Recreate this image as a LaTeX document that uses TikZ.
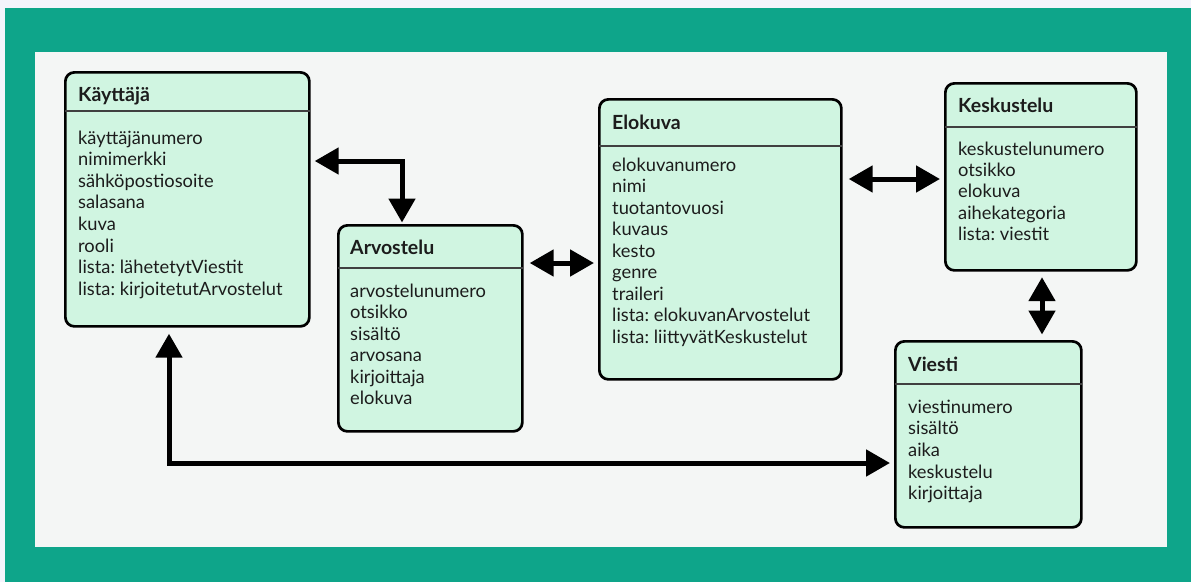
\documentclass[tikz,border=0pt]{standalone}
\usepackage{fontspec}
\setmainfont{Lato}[WordSpace=0.7]
\usetikzlibrary{arrows.meta,calc}

\definecolor{pageBg}{HTML}{F4F4FC}
\definecolor{frameTeal}{HTML}{0EA58A}
\definecolor{paper}{HTML}{F4F6F5}
\definecolor{entityFill}{HTML}{D0F5E1}
\definecolor{inkText}{HTML}{1C1C1C}

\tikzset{
  entity/.style={draw=black, line width=2.7pt, rounded corners=9pt,
    fill=entityFill, anchor=north west, inner sep=0pt},
  divider/.style={draw=black!75, line width=1.5pt},
  title/.style={font=\fontsize{19.5}{22}\selectfont\bfseries, text=inkText,
    anchor=base west, inner sep=0pt},
  attr/.style={font=\fontsize{18.3}{21.5}\selectfont, text=inkText,
    anchor=base west, inner sep=0pt},
  link/.style={line width=5pt, draw=black,
    {Triangle[length=24pt,width=26pt]}-{Triangle[length=24pt,width=26pt]}},
}

\begin{document}
\begin{tikzpicture}[x=1pt,y=-1pt]
  % page, frame and drawing area
  \fill[pageBg] (0,0) rectangle (1191,582);
  \fill[frameTeal] (5,8) rectangle (1191,582);
  \fill[paper] (35,52) rectangle (1167,547);
  \useasboundingbox (0,0) rectangle (1191,582);

  % entities
  \node[entity, minimum width=244pt, minimum height=254pt] (kay) at (64,71) {};
  \node[entity, minimum width=184pt, minimum height=206pt] (arv) at (337,224) {};
  \node[entity, minimum width=242pt, minimum height=280pt] (elo) at (598,98) {};
  \node[entity, minimum width=191pt, minimum height=187pt] (kes) at (944,82) {};
  \node[entity, minimum width=186pt, minimum height=186pt] (vie) at (894,340) {};

  % header dividers
  \draw[divider] ([xshift=1pt]kay.west |- 0,111) -- ([xshift=-1pt]kay.east |- 0,111);
  \draw[divider] ([xshift=1pt]arv.west |- 0,268) -- ([xshift=-1pt]arv.east |- 0,268);
  \draw[divider] ([xshift=1pt]elo.west |- 0,146) -- ([xshift=-1pt]elo.east |- 0,146);
  \draw[divider] ([xshift=1pt]kes.west |- 0,127) -- ([xshift=-1pt]kes.east |- 0,127);
  \draw[divider] ([xshift=1pt]vie.west |- 0,384) -- ([xshift=-1pt]vie.east |- 0,384);

  % titles
  \node[title] (kay-t) at (78,101) {Käyttäjä};
  \node[title] (arv-t) at (350,254) {Arvostelu};
  \node[title] (elo-t) at (612,129) {Elokuva};
  \node[title] (kes-t) at (958,112) {Keskustelu};
  \node[title] (vie-t) at (908,371) {Viesti};

  % attributes
  \foreach \t [count=\i] in {käyttäjänumero, nimimerkki, sähköpostiosoite,
      salasana, kuva, rooli, lista: lähetetytViestit, lista: kirjoitetutArvostelut}
    \node[attr] (kay-\i) at (78,{144+21.6*(\i-1)}) {\t};
  \foreach \t [count=\i] in {arvostelunumero, otsikko, sisältö, arvosana,
      kirjoittaja, elokuva}
    \node[attr] (arv-\i) at (350,{297+21.5*(\i-1)}) {\t};
  \foreach \t [count=\i] in {elokuvanumero, nimi, tuotantovuosi, kuvaus, kesto,
      genre, traileri, lista: elokuvanArvostelut, lista: liittyvätKeskustelut}
    \node[attr] (elo-\i) at (612,{171+21.5*(\i-1)}) {\t};
  \foreach \t [count=\i] in {keskustelunumero, otsikko, elokuva, aihekategoria,
      lista: viestit}
    \node[attr] (kes-\i) at (958,{155+21.4*(\i-1)}) {\t};
  \foreach \t [count=\i] in {viestinumero, sisältö, aika, keskustelu, kirjoittaja}
    \node[attr] (vie-\i) at (908,{413+21.7*(\i-1)}) {\t};

  % relationships
  \coordinate (j1) at (402,161);
  \coordinate (j2) at (560,263);
  \coordinate (j3) at (890,179);
  \coordinate (j4) at (1042,300);
  \coordinate (j5) at (169,463);

  \draw[link] ([xshift=4pt]kay.east |- j1) -- (j1) -- ([yshift=1.5pt]arv.north -| j1);
  \draw[link] ([xshift=6pt]arv.east |- j2) -- ([xshift=-4pt]elo.west |- j2);
  \draw[link] ([xshift=6pt]elo.east |- j3) -- ([xshift=-4pt]kes.west |- j3);
  \draw[link] ([yshift=-5.5pt]kes.south -| j4) -- ([yshift=5.5pt]vie.north -| j4);
  \draw[link] ([yshift=-6pt]kay.south -| j5) -- (j5) -- ([xshift=-4pt]vie.west |- j5);
\end{tikzpicture}
\end{document}
